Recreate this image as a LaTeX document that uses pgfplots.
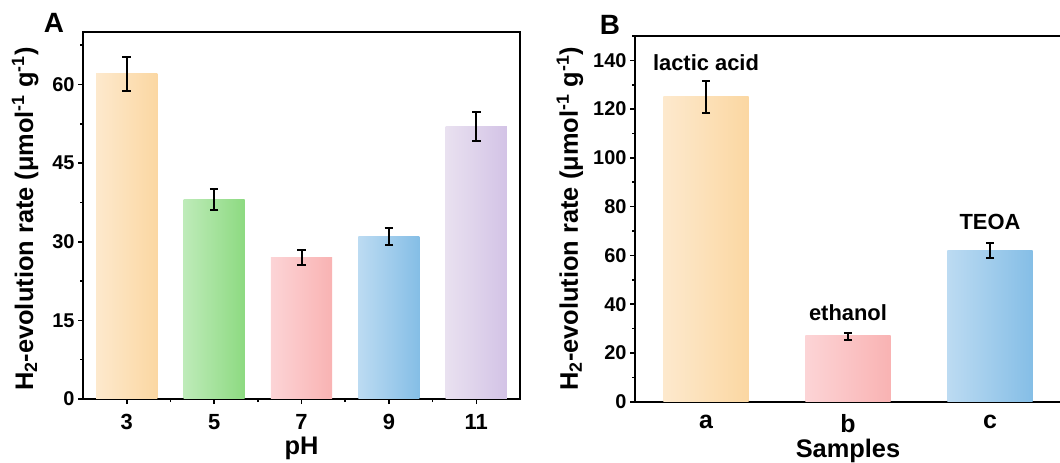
\documentclass[border=0pt]{standalone}
\usepackage{pgfplots}
\pgfplotsset{compat=1.18}
\usepackage{fontspec}
\setmainfont{Liberation Sans}

\definecolor{orL}{HTML}{FDE9CD}\definecolor{orR}{HTML}{FBD7A2}
\definecolor{grL}{HTML}{BEEBB9}\definecolor{grR}{HTML}{8DDA81}
\definecolor{pkL}{HTML}{FCD4D6}\definecolor{pkR}{HTML}{F9B3B3}
\definecolor{blL}{HTML}{BCDBF2}\definecolor{blR}{HTML}{85BEE6}
\definecolor{puL}{HTML}{E9E1F0}\definecolor{puR}{HTML}{D3C3E6}

\newcommand{\fs}[1]{\fontsize{#1}{#1}\selectfont\bfseries}
\newcommand{\ylab}{H\textsubscript{2}-evolution rate (μmol\textsuperscript{-1} g\textsuperscript{-1})}

\pgfplotsset{
  myaxis/.style={
    scale only axis,
    axis line style={line width=2bp, black},
    tick style={line width=1.6bp, black},
    major tick length=5bp, minor tick length=3bp,
    tick align=outside, xtick pos=left, ytick pos=left,
    /pgf/number format/assume math mode=true,
    ymin=0,
    label style={font=\fs{25.5}, inner sep=0pt},
    ylabel={\ylab},
  },
  mybar/.style 2 args={ybar, bar shift=0pt, draw=none, left color=#1, right color=#2},
  myerr/.style={draw=none, mark=none, forget plot,
    error bars/.cd, y dir=both, y explicit,
    error bar style={draw=black, line width=2bp, solid},
    error mark options={draw=black, rotate=90, mark size=4.2bp, line width=2bp}},
}

\begin{document}
\begin{tikzpicture}
\useasboundingbox (0,0) rectangle (1060bp,463bp);

% Panel A
\begin{axis}[myaxis,
  at={(83bp,64bp)}, anchor=south west,
  width=437bp, height=367bp,
  xmin=-0.5, xmax=4.5, ymax=70,
  xtick={0,1,2,3,4}, xticklabels={3,5,7,9,11},
  minor xtick={0.5,1.5,2.5,3.5},
  ytick={0,15,30,45,60}, minor ytick={7.5,22.5,37.5,52.5,67.5},
  xticklabel style={font=\fs{22}, inner sep=0pt, yshift=-10bp},
  yticklabel style={font=\fs{20}},
  xlabel={pH},
  xlabel style={at={(axis description cs:0.5,-0.150)}, anchor=base},
  ylabel style={at={(axis description cs:-0.114,0.49)}, anchor=base},
]
\addplot[mybar={orL}{orR}, bar width=0.7] coordinates {(0,62)};
\addplot[mybar={grL}{grR}, bar width=0.7] coordinates {(1,38)};
\addplot[mybar={pkL}{pkR}, bar width=0.7] coordinates {(2,27)};
\addplot[mybar={blL}{blR}, bar width=0.7] coordinates {(3,31)};
\addplot[mybar={puL}{puR}, bar width=0.7] coordinates {(4,52)};
\addplot[myerr] coordinates {
  (0,62) +- (0,3.2)
  (1,38) +- (0,2.0)
  (2,27) +- (0,1.45)
  (3,31) +- (0,1.65)
  (4,52) +- (0,2.7)
};
\end{axis}

% Panel B
\begin{axis}[myaxis,
  at={(635bp,61.3bp)}, anchor=south west,
  width=426bp, height=365.7bp,
  xmin=-0.5, xmax=2.5, ymax=150,
  xtick={0,1,2}, xticklabels={a,b,c},
  xtick style={draw=none},
  ytick={0,20,...,140}, minor ytick={10,30,...,150},
  xticklabel style={font=\fs{25}, inner sep=0pt, yshift=-8bp},
  yticklabel style={font=\fs{20}},
  xlabel={Samples},
  xlabel style={at={(axis description cs:0.5,-0.152)}, anchor=base},
  ylabel style={at={(axis description cs:-0.134,0.5)}, anchor=base},
]
\addplot[mybar={orL}{orR}, bar width=0.6] coordinates {(0,125)};
\addplot[mybar={pkL}{pkR}, bar width=0.6] coordinates {(1,27)};
\addplot[mybar={blL}{blR}, bar width=0.6] coordinates {(2,62)};
\addplot[myerr] coordinates {
  (0,125) +- (0,6.4)
  (1,26.8) +- (0,1.4)
  (2,62) +- (0,3.2)
};
\node[font=\fs{22}, anchor=base] at (axis cs:0,135.8) {lactic acid};
\node[font=\fs{22}, anchor=base] at (axis cs:1,33.2) {ethanol};
\node[font=\fs{22}, anchor=base] at (axis cs:2,70.7) {TEOA};
\end{axis}

\node[font=\fs{28}, anchor=base] at (54bp,430bp) {A};
\node[font=\fs{28}, anchor=base] at (610bp,428bp) {B};
\end{tikzpicture}
\end{document}
